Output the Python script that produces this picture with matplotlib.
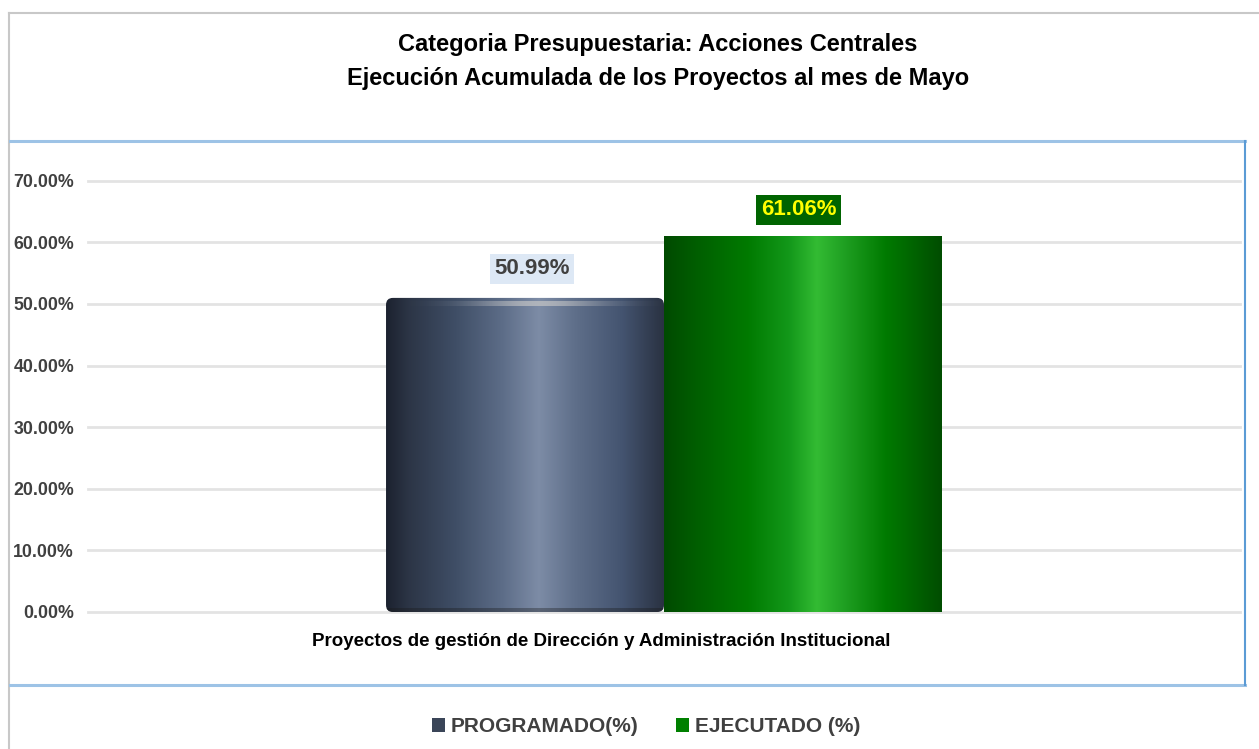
import numpy as np
import matplotlib
matplotlib.use("Agg")
import matplotlib.pyplot as plt
from matplotlib.colors import LinearSegmentedColormap
from matplotlib.patches import Rectangle, FancyBboxPatch
from matplotlib.lines import Line2D

plt.rcParams['font.family'] = ['Liberation Sans', 'DejaVu Sans']

# ---- data ----
title_lines = ["Categoria Presupuestaria: Acciones Centrales",
               "Ejecución Acumulada de los Proyectos al mes de Mayo"]
category = "Proyectos de gestión de Dirección y Administración Institucional"
series_names = ["PROGRAMADO(%)", "EJECUTADO (%)"]
series_values = [50.99, 61.06]
y_ticks = [0, 10, 20, 30, 40, 50, 60, 70]
y_tick_labels = ["0.00%", "10.00%", "20.00%", "30.00%", "40.00%", "50.00%", "60.00%", "70.00%"]

W, H = 1259, 749
fig = plt.figure(figsize=(W / 100, H / 100), dpi=100)
fig.patch.set_facecolor("white")

def fx(px):
    return px / W

def fy(py):
    return 1 - py / H

# outer gray border
fig.add_artist(Line2D([fx(9), fx(1259)], [fy(13), fy(13)], color="#c8c8c8", lw=1.5))
fig.add_artist(Line2D([fx(9), fx(9)], [fy(13), fy(749)], color="#c8c8c8", lw=1.5))
# blue plot-area frame
fig.add_artist(Line2D([fx(10), fx(1245)], [fy(141), fy(141)], color="#9dc3e6", lw=2.2))
fig.add_artist(Line2D([fx(10), fx(1245)], [fy(685), fy(685)], color="#9dc3e6", lw=2.2))
fig.add_artist(Line2D([fx(1245), fx(1245)], [fy(141), fy(685)], color="#5b9bd5", lw=1.5))

# title
fig.text(fx(658), fy(45), title_lines[0], ha="center", va="center",
         fontsize=17, fontweight="bold", color="#000000")
fig.text(fx(658), fy(78), title_lines[1], ha="center", va="center",
         fontsize=17, fontweight="bold", color="#000000")

# axes
ax_left, ax_right = 88, 1240
ax_bottom, ax_top = 612, 150
ax = fig.add_axes([fx(ax_left), fy(ax_bottom), fx(ax_right - ax_left), (ax_bottom - ax_top) / H])
ax.set_xlim(-1, 1)
ax.set_ylim(0, 75)
ax.set_facecolor("none")
for s in ax.spines.values():
    s.set_visible(False)
ax.set_yticks(y_ticks)
ax.set_yticklabels(y_tick_labels)
ax.tick_params(axis="y", length=0, pad=10, labelsize=12.8, labelcolor="#404040")
for lbl in ax.get_yticklabels():
    lbl.set_fontweight("bold")
ax.set_xticks([])
ax.yaxis.grid(True, color="#e3e3e3", lw=2)
for gl in ax.yaxis.get_gridlines():
    gl.set_clip_on(False)
ax.set_axisbelow(True)

bw = 0.4826
xs = [-bw / 2, bw / 2]
bars = ax.bar(xs, series_values, width=bw, facecolor="none", edgecolor="none", zorder=2)

grad_prog = LinearSegmentedColormap.from_list("prog", [
    (0.0, "#1c2230"), (0.08, "#2c3546"), (0.25, "#3f4e66"), (0.42, "#5d6d88"),
    (0.55, "#7d8ca6"), (0.68, "#5f6f8a"), (0.85, "#445470"), (1.0, "#2a3242")])
grad_ejec = LinearSegmentedColormap.from_list("ejec", [
    (0.0, "#004a00"), (0.12, "#005f00"), (0.3, "#007a00"), (0.45, "#13981a"),
    (0.55, "#33bb33"), (0.65, "#1f9f22"), (0.8, "#007a00"), (1.0, "#004d00")])
cmaps = [grad_prog, grad_ejec]

gradient = np.linspace(0, 1, 256).reshape(1, -1)
mut_aspect = (0.75 / (ax_bottom - ax_top) * 100) / (2 / (ax_right - ax_left))
for i, (bar, cm) in enumerate(zip(bars, cmaps)):
    x0, y0 = bar.get_x(), bar.get_y()
    w, h = bar.get_width(), bar.get_height()
    if i == 0:
        r = 0.012
        clip = FancyBboxPatch((x0 + r, y0 + r * mut_aspect), w - 2 * r, h - 2 * r * mut_aspect,
                              boxstyle="round,pad=%f,rounding_size=%f" % (r, r),
                              mutation_aspect=mut_aspect,
                              facecolor="none", edgecolor="none", transform=ax.transData)
    else:
        clip = Rectangle((x0, y0), w, h, facecolor="none", edgecolor="none",
                         transform=ax.transData)
    ax.add_patch(clip)
    im = ax.imshow(gradient, cmap=cm, aspect="auto", extent=[x0, x0 + w, y0, y0 + h],
                   zorder=2, interpolation="bicubic")
    im.set_clip_path(clip)
    if i == 0:
        # light cylinder-top highlight
        hl = np.linspace(0, 1, 256)
        alpha = np.exp(-((hl - 0.55) / 0.22) ** 2)
        rgba = np.zeros((1, 256, 4))
        rgba[..., :3] = 0.78
        rgba[..., 3] = alpha * 0.7
        im2 = ax.imshow(rgba, aspect="auto",
                        extent=[x0, x0 + w, h - 1.3, h - 0.5], zorder=3,
                        interpolation="bicubic")
        im2.set_clip_path(clip)
        # bottom darker rim
        rim = np.zeros((1, 256, 4))
        rim[..., :3] = 0.1
        rim[..., 3] = 0.35
        im3 = ax.imshow(rim, aspect="auto", extent=[x0, x0 + w, 0, 0.5], zorder=3)
        im3.set_clip_path(clip)

ax.set_xlim(-1, 1)
ax.set_ylim(0, 75)

# value labels
ax.text(xs[0] + 0.012, series_values[0] + 4.7, "%.2f%%" % series_values[0],
        ha="center", va="center", fontsize=16, fontweight="bold", color="#404040",
        bbox=dict(boxstyle="square,pad=0.2", facecolor="#dde8f5", edgecolor="none"), zorder=5)
ax.text(xs[1] - 0.008, series_values[1] + 4.2, "%.2f%%" % series_values[1],
        ha="center", va="center", fontsize=16, fontweight="bold", color="#ffff00",
        bbox=dict(boxstyle="square,pad=0.2", facecolor="#006400", edgecolor="none"), zorder=5)

# category label
fig.text(fx(601), fy(641), category, ha="center", va="center",
         fontsize=13.5, fontweight="bold", color="#000000")

# legend
handles = [Rectangle((0, 0), 1, 1, facecolor="#3a4558", edgecolor="none"),
           Rectangle((0, 0), 1, 1, facecolor="#008000", edgecolor="none")]
leg = fig.legend(handles, series_names, loc="center", bbox_to_anchor=(fx(646), fy(727)),
                 ncol=2, frameon=False, handlelength=0.65, handleheight=0.65,
                 handletextpad=0.25, columnspacing=1.8,
                 prop=dict(size=15, weight="bold"))
for t in leg.get_texts():
    t.set_color("#404040")

fig.savefig("out.png", dpi=100)
